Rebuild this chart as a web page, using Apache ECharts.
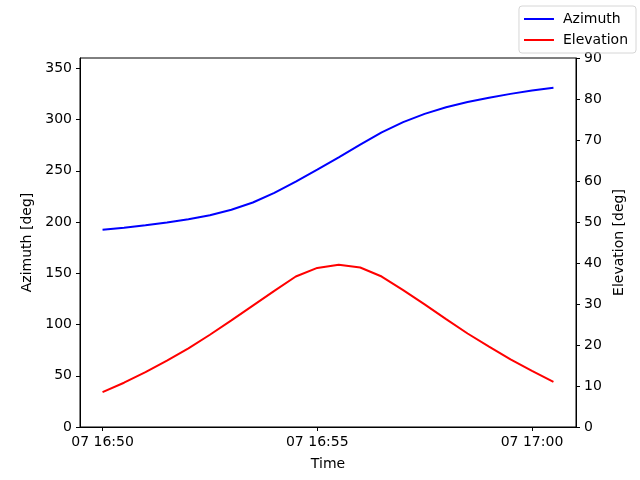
<!DOCTYPE html>
<html>
<head>
<meta charset="utf-8">
<script src="https://cdn.jsdelivr.net/npm/echarts@6/dist/echarts.min.js"></script>
<style>
  html, body { margin: 0; padding: 0; background: #fff; }
  #main { width: 640px; height: 480px; }
</style>
</head>
<body>
<div id="main"></div>
<script>
// sample times (day 07), one every 30 s
var times = ['16:50:00','16:50:30','16:51:00','16:51:30','16:52:00','16:52:30','16:53:00','16:53:30',
             '16:54:00','16:54:30','16:55:00','16:55:30','16:56:00','16:56:30','16:57:00','16:57:30',
             '16:58:00','16:58:30','16:59:00','16:59:30','17:00:00','17:00:30'];
var azimuth = [192.5, 194.5, 196.8, 199.5, 202.6, 206.5, 212, 219, 228.5, 239.5, 251,
               263, 275.5, 287.5, 297.5, 305.5, 312, 317, 321.2, 325, 328.3, 331];
var elevation = [8.5, 10.8, 13.4, 16.2, 19.2, 22.5, 26, 29.6, 33.2, 36.7, 38.8,
                 39.6, 38.9, 36.7, 33.4, 29.9, 26.3, 22.8, 19.6, 16.5, 13.7, 11.0];
var timeTicks = ['16:50:00', '16:55:00', '17:00:00'];
var azTicks = [0, 50, 100, 150, 200, 250, 300, 350];
var elTicks = [0, 10, 20, 30, 40, 50, 60, 70, 80, 90];

// seconds after 16:50:00
function secs(t) {
	var p = t.split(':');
	return (+p[0] * 3600 + +p[1] * 60 + +p[2]) - (16 * 3600 + 50 * 60);
}
function fmt(v) {
	var s = Math.round(v) + 16 * 3600 + 50 * 60;
	var h = Math.floor(s / 3600), m = Math.floor((s % 3600) / 60);
	return '07 ' + h + ':' + (m < 10 ? '0' : '') + m;
}

var font = 'DejaVu Sans';
var azData = times.map(function (t, i) { return [secs(t), azimuth[i]]; });
var elData = times.map(function (t, i) { return [secs(t), elevation[i]]; });
var xTickVals = timeTicks.map(secs);

var myChart = echarts.init(document.getElementById('main'));
var axisCommon = {
	axisLine: { show: true, onZero: false, lineStyle: { color: '#000', width: 1 } },
	axisTick: { show: true, inside: false, length: 4, lineStyle: { color: '#000' } },
	splitLine: { show: false },
	nameTextStyle: { color: '#000', fontFamily: font, fontSize: 14 },
	axisLabel: { color: '#000', fontFamily: font, fontSize: 14, margin: 8 }
};

var option = {
	animation: false,
	backgroundColor: '#fff',
	textStyle: { fontFamily: font },
	grid: { left: 80, right: 64, top: 58, bottom: 53, show: true, borderColor: '#000', borderWidth: 1 },
	legend: {
		orient: 'vertical',
		right: 4,
		top: 6,
		padding: [6, 8, 6, 5],
		itemGap: 7,
		itemWidth: 30,
		itemHeight: 2,
		icon: 'rect',
		borderColor: '#d6d6d6',
		borderWidth: 1,
		borderRadius: 3,
		textStyle: { color: '#000', fontFamily: font, fontSize: 14, padding: [0, 0, 0, 4] },
		data: ['Azimuth', 'Elevation']
	},
	xAxis: Object.assign({}, axisCommon, {
		type: 'value',
		min: -31.5,
		max: 661.5,
		name: 'Time',
		nameLocation: 'middle',
		nameGap: 30,
		axisTick: Object.assign({}, axisCommon.axisTick, { customValues: xTickVals }),
		axisLabel: Object.assign({}, axisCommon.axisLabel, { customValues: xTickVals, formatter: fmt })
	}),
	yAxis: [
		Object.assign({}, axisCommon, {
			type: 'value',
			min: 0,
			max: 360,
			name: 'Azimuth [deg]',
			nameLocation: 'middle',
			nameGap: 41,
			axisTick: Object.assign({}, axisCommon.axisTick, { customValues: azTicks }),
			axisLabel: Object.assign({}, axisCommon.axisLabel, { customValues: azTicks })
		}),
		Object.assign({}, axisCommon, {
			type: 'value',
			min: 0,
			max: 90,
			position: 'right',
			name: 'Elevation [deg]',
			nameLocation: 'middle',
			nameGap: 32,
			axisTick: Object.assign({}, axisCommon.axisTick, { customValues: elTicks }),
			axisLabel: Object.assign({}, axisCommon.axisLabel, { customValues: elTicks })
		})
	],
	series: [
		{
			name: 'Azimuth',
			type: 'line',
			yAxisIndex: 0,
			data: azData,
			showSymbol: false,
			color: '#0000ff',
			lineStyle: { width: 2, color: '#0000ff' }
		},
		{
			name: 'Elevation',
			type: 'line',
			yAxisIndex: 1,
			data: elData,
			showSymbol: false,
			color: '#ff0000',
			lineStyle: { width: 2, color: '#ff0000' }
		}
	]
};
myChart.setOption(option);
</script>
</body>
</html>
